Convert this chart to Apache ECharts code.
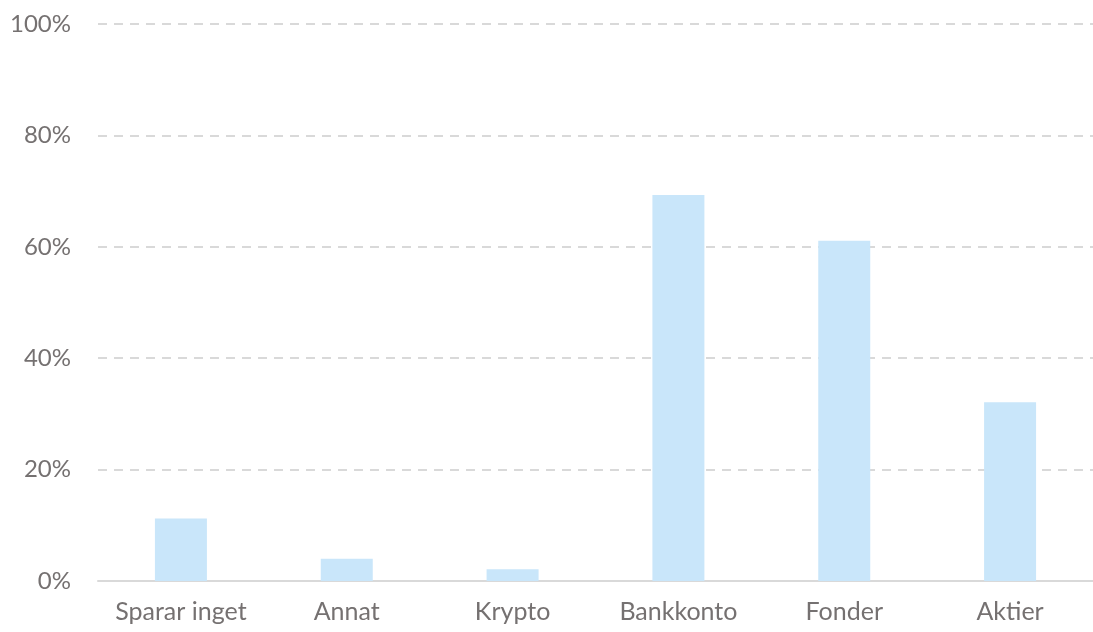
<!DOCTYPE html>
<html>
<head>
<meta charset="utf-8">
<script src="https://cdn.jsdelivr.net/npm/echarts@6/dist/echarts.min.js"></script>
<style>html,body{margin:0;padding:0;background:#fff;}#c{width:1093px;height:632px;}</style>
</head>
<body>
<div id="c"></div>
<script>
var categories = ['Sparar inget', 'Annat', 'Krypto', 'Bankkonto', 'Fonder', 'Aktier'];
var values = [11.2, 4.0, 2.1, 69.3, 61.1, 32.1];
var yTicks = [0, 20, 40, 60, 80, 100];

var chart = echarts.init(document.getElementById('c'));
chart.setOption({
  animation: false,
  grid: { left: 98, right: 0, top: 24, bottom: 51, containLabel: false },
  xAxis: {
    type: 'category',
    data: categories,
    axisLine: { show: true, lineStyle: { color: '#d9d9d9', width: 2 } },
    axisTick: { show: false },
    axisLabel: { interval: 0, color: '#757171', fontSize: 25, fontFamily: 'Lato', margin: 18 }
  },
  yAxis: {
    type: 'value',
    min: yTicks[0],
    max: yTicks[yTicks.length - 1],
    interval: 20,
    axisLine: { show: false },
    axisTick: { show: false },
    splitLine: { show: true, lineStyle: { color: '#d9d9d9', width: 2, type: [9, 7] } },
    axisLabel: { color: '#757171', fontSize: 24, fontFamily: 'Lato', margin: 27, formatter: '{value}%' }
  },
  series: [{
    type: 'bar',
    data: values,
    barWidth: 52,
    itemStyle: { color: '#C9E6FA' }
  }]
});
</script>
</body>
</html>
